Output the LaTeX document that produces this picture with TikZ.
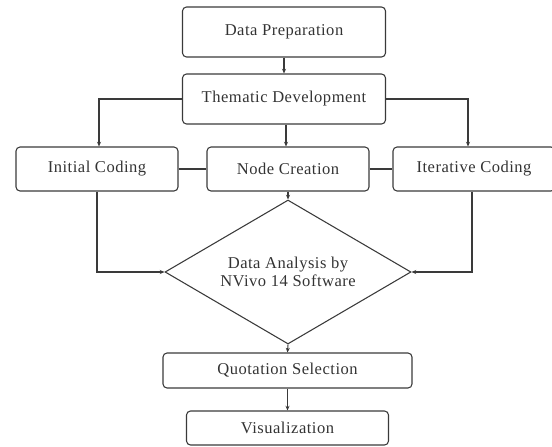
\documentclass[tikz,border=0pt]{standalone}
\usepackage{fontspec}
\setmainfont{Liberation Serif}[LetterSpace=3]
\usetikzlibrary{shapes.geometric,arrows.meta}
\definecolor{ln}{HTML}{3A3A3A}
\definecolor{tx}{HTML}{333333}
\begin{document}
\begin{tikzpicture}[x=0.75pt,y=-0.75pt,
  box/.style={draw=ln,line width=0.8pt,rounded corners=3pt,inner sep=0pt,
    font=\fontsize{12.4}{13.5}\selectfont,text=tx},
  dia/.style={draw=ln,line width=0.8pt,shape=diamond,aspect=1.708,inner sep=0pt,
    minimum width=184.5pt,minimum height=108pt,align=center,
    font=\fontsize{12.4}{13.5}\selectfont,text=tx},
  conn/.style={draw=ln,line width=0.8pt},
  arr/.style={conn,-{Stealth[length=3.5pt,width=3pt]}}]
\useasboundingbox (0,0) rectangle (552,446);
\clip (0,0) rectangle (552,446);
\node[box,minimum width=152.25pt,minimum height=37.5pt] (dp) at (284,32) {Data Preparation};
\node[box,minimum width=152.25pt,minimum height=37.5pt] (td) at (284,99) {Thematic Development};
\node[box,minimum width=121.5pt,minimum height=33pt] (ic) at (97,169) {Initial Coding};
\node[box,minimum width=121.5pt,minimum height=33pt] (nc) at (288,169) {Node Creation};
\node[box,minimum width=121.5pt,minimum height=33pt] (it) at (474,169) {Iterative Coding};
\node[dia] (da) at (288,272) {Data Analysis by\\NVivo 14 Software};
\node[box,minimum width=186.75pt,minimum height=26.25pt] (qs) at (287.5,370.5) {Quotation Selection};
\node[box,minimum width=151.5pt,minimum height=25.5pt] (vz) at (287.5,428) {Visualization};
\draw[arr] (dp.south) -- (td.north);
\draw[arr] (td.west) -| ([xshift=1.5pt]ic.north);
\draw[arr] (td.east) -| ([xshift=-4.5pt]it.north);
\draw[arr] ([xshift=-1.5pt]nc.north |- td.south) -- ([xshift=-1.5pt]nc.north);
\draw[conn] (ic.east) -- (nc.west);
\draw[conn] (nc.east) -- (it.west);
\draw[arr] (ic.south) |- (da.west);
\draw[arr] ([xshift=-1.5pt]it.south) |- (da.east);
\draw[arr] (nc.south) -- (da.north);
\draw[arr] (da.south) -- (qs.north);
\draw[arr] (qs.south) -- (vz.north);
\end{tikzpicture}
\end{document}
